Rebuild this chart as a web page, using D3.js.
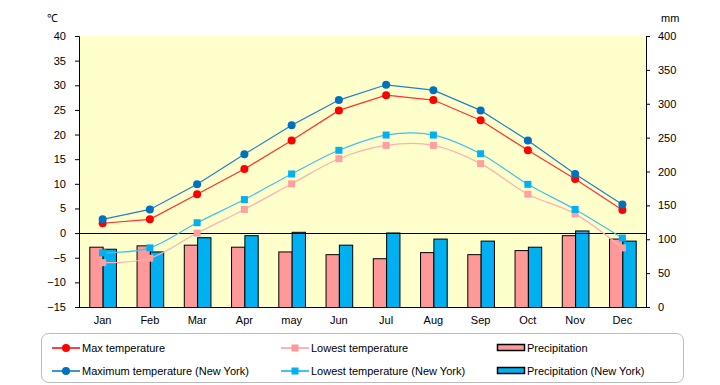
<!DOCTYPE html>
<html>
<head>
<meta charset="utf-8">
<script src="https://cdn.jsdelivr.net/npm/d3@7"></script>
<style>
  body { margin: 0; background: #fff; }
  svg text { font-family: "Liberation Sans", Arial, sans-serif; font-size: 11px; fill: #000; }
</style>
</head>
<body>
<div id="chart"></div>
<script>
// chart data
const months = ["Jan", "Feb", "Mar", "Apr", "may", "Jun", "Jul", "Aug", "Sep", "Oct", "Nov", "Dec"];
const maxTemp = [2.0, 2.8, 7.9, 13.0, 18.8, 24.9, 28.0, 27.0, 22.9, 16.8, 11.0, 4.7];
const lowTemp = [-6.0, -5.1, 0.0, 4.8, 10.0, 15.1, 17.8, 17.8, 14.1, 7.9, 3.9, -3.0];
const precip = [89, 91, 92, 89, 82, 78, 72, 81, 78, 84, 106, 101];
const maxTempNY = [2.8, 4.8, 9.9, 16.0, 21.9, 27.0, 30.1, 29.0, 24.9, 18.8, 12.0, 5.8];
const lowTempNY = [-4.0, -3.0, 2.1, 6.8, 12.0, 16.8, 19.9, 19.9, 16.1, 9.9, 4.8, -1.0];
const precipNY = [86, 82, 103, 106, 111, 92, 110, 101, 98, 89, 113, 98];
const tempTicks = [-15, -10, -5, 0, 5, 10, 15, 20, 25, 30, 35, 40];
const mmTicks = [0, 50, 100, 150, 200, 250, 300, 350, 400];

const W = 720, H = 385;
const margin = { top: 36, right: 74, bottom: 78, left: 79 };
const width = W - margin.left - margin.right;
const height = H - margin.top - margin.bottom;

const svg = d3.select("#chart").append("svg")
    .attr("width", W).attr("height", H);

const g = svg.append("g")
    .attr("transform", `translate(${margin.left},${margin.top})`);

const x = d3.scaleBand().domain(months).range([0, width]);
const yT = d3.scaleLinear().domain([-15, 40]).range([height, 0]);
const yP = d3.scaleLinear().domain([0, 400]).range([height, 0]);

// plot background
g.append("rect")
    .attr("width", width).attr("height", height)
    .attr("fill", "#FFFFCC");

// precipitation bars
const barW = x.bandwidth() * 0.282;
const bars = [
    { data: precip, fill: "#FF9999", off: -barW },
    { data: precipNY, fill: "#00B0F0", off: 0 }
];
bars.forEach((b) => {
    g.append("g").selectAll("rect")
        .data(b.data)
        .join("rect")
        .attr("x", (d, i) => x(months[i]) + x.bandwidth() / 2 + b.off + 0.5)
        .attr("y", (d) => yP(d) + 0.5)
        .attr("width", barW)
        .attr("height", (d) => yP(0) - yP(d))
        .attr("fill", b.fill)
        .attr("stroke", "#000")
        .attr("stroke-width", 1);
});

// zero line
g.append("line")
    .attr("x1", 0).attr("x2", width)
    .attr("y1", Math.round(yT(0)) + 0.5).attr("y2", Math.round(yT(0)) + 0.5)
    .attr("stroke", "#000");

// temperature lines
const cx = (i) => x(months[i]) + x.bandwidth() / 2;
const series = [
    { data: lowTemp, color: "#FFA0A0", line: "#FFB0B0", shape: "square", curve: d3.curveCardinal.tension(0) },
    { data: lowTempNY, color: "#00B0F0", line: "#40C0F0", shape: "square", curve: d3.curveCardinal.tension(0) },
    { data: maxTemp, color: "#FF0000", line: "#FF3030", shape: "circle", curve: d3.curveLinear },
    { data: maxTempNY, color: "#0070C0", line: "#2080C8", shape: "circle", curve: d3.curveLinear }
];

series.forEach((s) => {
    const line = d3.line()
        .x((d, i) => cx(i))
        .y((d) => yT(d))
        .curve(s.curve);
    g.append("path")
        .datum(s.data)
        .attr("d", line)
        .attr("fill", "none")
        .attr("stroke", s.line)
        .attr("stroke-width", 1.2);
    const m = g.append("g");
    if (s.shape === "circle") {
        m.selectAll("circle").data(s.data).join("circle")
            .attr("cx", (d, i) => cx(i))
            .attr("cy", (d) => yT(d))
            .attr("r", 4)
            .attr("fill", s.color);
    } else {
        m.selectAll("rect").data(s.data).join("rect")
            .attr("x", (d, i) => cx(i) - 3.5)
            .attr("y", (d) => yT(d) - 3.5)
            .attr("width", 7).attr("height", 7)
            .attr("fill", s.color);
    }
});

// axes
const axL = g.append("g")
    .call(d3.axisLeft(yT).tickValues(tempTicks).tickSize(4).tickPadding(9));
const axR = g.append("g")
    .attr("transform", `translate(${width},0)`)
    .call(d3.axisRight(yP).tickValues(mmTicks).tickSize(4).tickPadding(8));
[axL, axR].forEach((a) => {
    a.select(".domain").attr("stroke", "#000");
    a.selectAll("line").attr("stroke", "#000");
    a.selectAll("text").style("font-size", "11px");
});

// bottom axis line and labels
g.append("line")
    .attr("x1", 0).attr("x2", width)
    .attr("y1", height + 0.5).attr("y2", height + 0.5)
    .attr("stroke", "#000");
g.append("g").selectAll("text")
    .data(months)
    .join("text")
    .attr("x", (d) => x(d) + x.bandwidth() / 2)
    .attr("y", height + 17)
    .attr("text-anchor", "middle")
    .text((d) => d);

// unit labels
svg.append("text").attr("x", 47).attr("y", 22).text("℃");
svg.append("text").attr("x", 661).attr("y", 22).text("mm");

// legend
const lg = svg.append("g");
lg.append("rect")
    .attr("x", 41.5).attr("y", 333.5)
    .attr("width", 642).attr("height", 49)
    .attr("rx", 7)
    .attr("fill", "#fff")
    .attr("stroke", "#BBBBBB");

const legendItems = [
    { label: "Max temperature", type: "circle", color: "#FF0000", x: 52, y: 348 },
    { label: "Lowest temperature", type: "square", color: "#FF9999", x: 281, y: 348 },
    { label: "Precipitation", type: "bar", color: "#FF9999", x: 497, y: 348 },
    { label: "Maximum temperature (New York)", type: "circle", color: "#0070C0", x: 52, y: 371 },
    { label: "Lowest temperature (New York)", type: "square", color: "#00B0F0", x: 281, y: 371 },
    { label: "Precipitation (New York)", type: "bar", color: "#00B0F0", x: 497, y: 371 }
];

legendItems.forEach((it) => {
    const e = lg.append("g").attr("transform", `translate(${it.x},${it.y})`);
    if (it.type === "bar") {
        e.append("rect")
            .attr("x", 0.5).attr("y", -3.5)
            .attr("width", 27).attr("height", 6)
            .attr("fill", it.color).attr("stroke", "#000").attr("stroke-width", 1.5);
    } else {
        e.append("line")
            .attr("x1", 0).attr("x2", 28).attr("y1", 0).attr("y2", 0)
            .attr("stroke", it.color).attr("stroke-width", 1.5);
        if (it.type === "circle") {
            e.append("circle").attr("cx", 14).attr("cy", 0).attr("r", 4).attr("fill", it.color);
        } else {
            e.append("rect").attr("x", 10.5).attr("y", -3.5).attr("width", 7).attr("height", 7).attr("fill", it.color);
        }
    }
    e.append("text")
        .attr("x", 30).attr("y", 4)
        .text(it.label);
});
</script>
</body>
</html>
